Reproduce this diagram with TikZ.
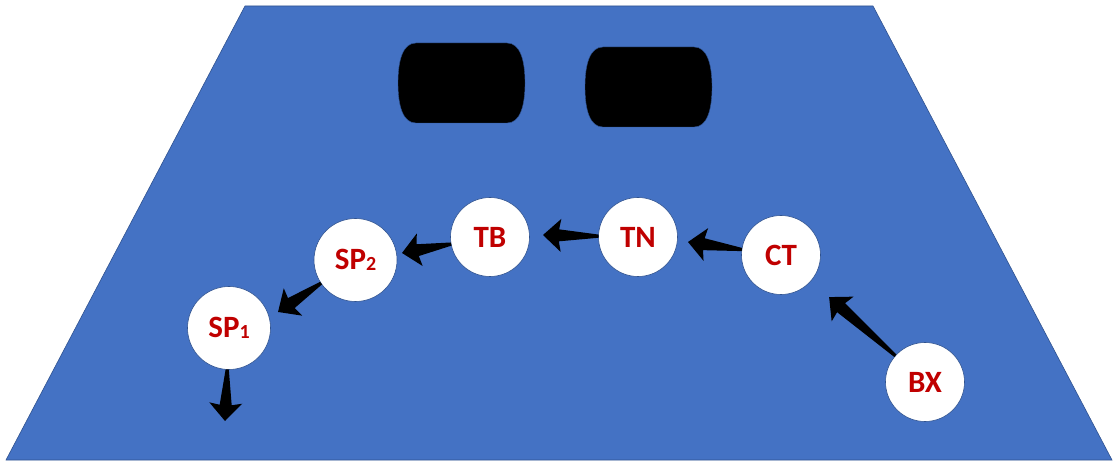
\documentclass[tikz,border=0pt]{standalone}
\usepackage{fontspec}
\setmainfont{Carlito}
\usetikzlibrary{calc}

\definecolor{stageBlue}{HTML}{4472C4}
\definecolor{stageEdge}{HTML}{2F528F}
\definecolor{labelRed}{HTML}{C00000}

\tikzset{
  stage/.style={fill=stageBlue, draw=stageEdge, line width=0.6pt},
  pad/.style={fill=black, draw=stageEdge, line width=0.4pt},
  station/.style={circle, fill=white, draw=stageEdge, line width=0.6pt,
    minimum size=#1, inner sep=0pt, text=labelRed,
    font=\fontsize{31}{31}\selectfont\bfseries},
  station/.default=79pt,
  arrowfill/.style={fill=black},
}

% subscript digit sitting near the baseline
\newcommand\lowdigit[1]{\raisebox{-1pt}{\fontsize{20}{20}\selectfont #1}}

% tapered block arrow: thin tail on the border of node #1 (radius #3), tip at #2
\newcommand\blockarrow[3]{%
  \path let \p1=($(#1)!#3!(#2)$), \p2=(#2),
        \n1={atan2(\y2-\y1,\x2-\x1)},
        \n2={veclen(\x2-\x1,\y2-\y1)} in
    \pgfextra{\xdef\arrAng{\n1}\xdef\arrLen{\n2}\xdef\arrX{\x1}\xdef\arrY{\y1}};
  \fill[arrowfill, shift={(\arrX,\arrY)}, rotate=\arrAng]
    (0pt,1.6pt) -- ({\arrLen-16pt},6pt) -- ({\arrLen-18pt},16.5pt)
    -- (\arrLen,0pt)
    -- ({\arrLen-18pt},-16.5pt) -- ({\arrLen-16pt},-6pt)
    -- (0pt,-1.6pt) -- cycle;
}

\begin{document}
\begin{tikzpicture}[x=1pt,y=-1pt]
  \useasboundingbox (0,0) rectangle (1117,462);
  \fill[white] (0,0) rectangle (1117,462);

  % the stage
  \draw[stage] (245,6) -- (873,6) -- (1112,460) -- (6,460) -- cycle;

  % two dark pads at the back
  \draw[pad] (416,43) -- (507,43)
    .. controls (520,43) and (525,60) .. (525,83)
    .. controls (525,106) and (520,123) .. (507,123)
    -- (416,123)
    .. controls (403,123) and (398,106) .. (398,83)
    .. controls (398,60) and (403,43) .. (416,43) -- cycle;
  \draw[pad] (603,47) -- (694,47)
    .. controls (707,47) and (712,64) .. (712,87)
    .. controls (712,110) and (707,127) .. (694,127)
    -- (603,127)
    .. controls (590,127) and (585,110) .. (585,87)
    .. controls (585,64) and (590,47) .. (603,47) -- cycle;

  % stations
  \node[station=83pt] (sp1) at (229,328) {SP\lowdigit{1}};
  \node[station=83pt] (sp2) at (355.5,260) {SP\lowdigit{2}};
  \node[station] (tb) at (490,237) {TB};
  \node[station] (tn) at (638,237) {TN};
  \node[station] (ct) at (781,255) {CT};
  \node[station] (bx) at (925,382) {BX};

  % arrow tips
  \coordinate (ctIn) at (829,297);
  \coordinate (tnIn) at (688,242);
  \coordinate (tbIn) at (543,235);
  \coordinate (sp2In) at (402,253);
  \coordinate (sp1In) at (278,312);
  \coordinate (sp1Out) at (225,421);

  \blockarrow{bx}{ctIn}{39.5pt}
  \blockarrow{ct}{tnIn}{39.5pt}
  \blockarrow{tn}{tbIn}{39.5pt}
  \blockarrow{tb}{sp2In}{39.5pt}
  \blockarrow{sp2}{sp1In}{41.5pt}
  \blockarrow{sp1}{sp1Out}{41.5pt}
\end{tikzpicture}
\end{document}
